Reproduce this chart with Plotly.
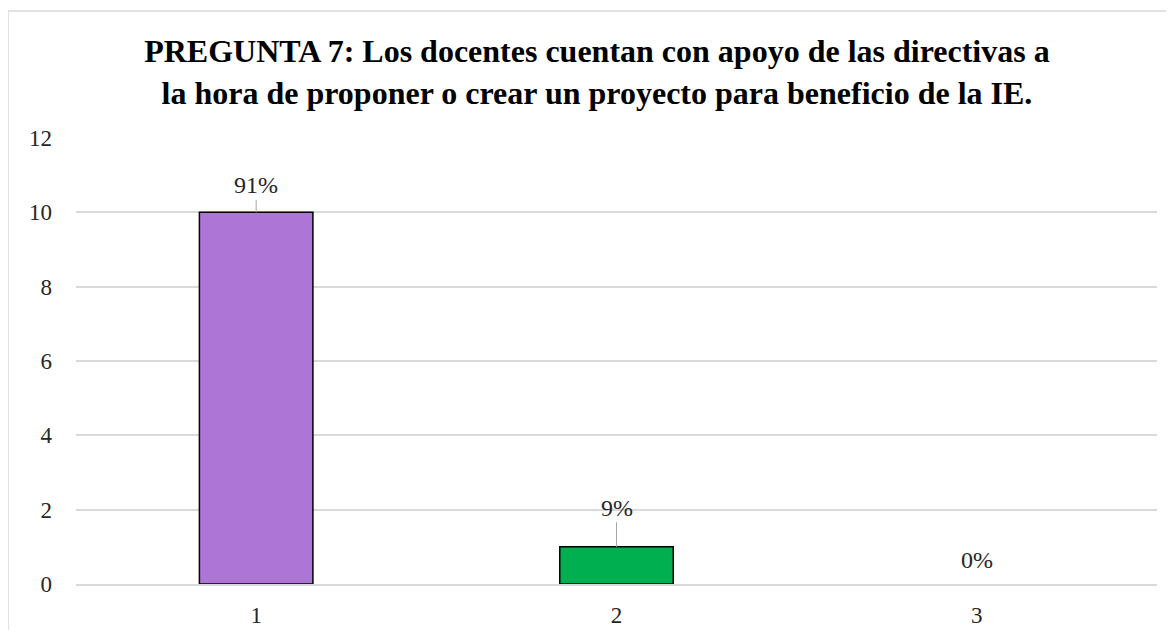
import plotly.graph_objects as go

# chart data
categories = ["1", "2", "3"]
counts = [10, 1, 0]
percent_labels = ["91%", "9%", "0%"]
bar_colors = ["#AD76D6", "#00B050", "#4472C4"]

title_text = ("<b>PREGUNTA 7: Los docentes cuentan con apoyo de las directivas a<br>"
              "la hora de proponer o crear un proyecto para beneficio de la IE.</b>")

FONT = "Liberation Serif, Times New Roman, serif"
TXT = "#262626"

fig = go.Figure(
    go.Bar(
        x=categories,
        y=counts,
        marker=dict(color=bar_colors, line=dict(color="#000000", width=[1.5, 1.5, 0])),
        width=0.315,
        hoverinfo="skip",
    )
)

# data labels with short leader lines (offsets in px)
label_offsets = [-27, -39, -24]
show_leader = [True, True, False]
for i, (val, lab, off, lead) in enumerate(zip(counts, percent_labels, label_offsets, show_leader)):
    fig.add_annotation(
        x=i, y=val, text=lab,
        showarrow=lead, arrowhead=0, arrowwidth=1, arrowcolor="#A6A6A6",
        ax=0, ay=off, yshift=0 if lead else -off,
        font=dict(family=FONT, size=24, color=TXT),
    )

# chart border
fig.add_shape(type="rect", xref="paper", yref="paper",
              x0=-0.0629, x1=1.03, y0=-0.3, y1=1.2848,
              line=dict(color="#D9D9D9", width=1.5), fillcolor="rgba(0,0,0,0)")

fig.update_layout(
    width=1158, height=622,
    margin=dict(l=68, r=9, t=130, b=46),
    paper_bgcolor="white", plot_bgcolor="white",
    showlegend=False,
    title=dict(text=title_text, x=0.5086, xanchor="center", y=0.913, yanchor="middle",
               font=dict(family=FONT, size=32, color="#000000")),
    font=dict(family=FONT, size=23, color=TXT),
)
fig.update_yaxes(range=[0, 12], dtick=2, showgrid=True, gridcolor="#D9D9D9", gridwidth=1.5,
                 zeroline=False, showline=False, ticks="", ticklabelstandoff=23,
                 automargin=False,
                 tickfont=dict(family=FONT, size=23, color=TXT))
fig.update_xaxes(showgrid=False, showline=True, linecolor="#D9D9D9", linewidth=1.5,
                 ticks="", ticklabelstandoff=10, automargin=False,
                 tickfont=dict(family=FONT, size=23, color=TXT))

fig.write_html("out.html")
